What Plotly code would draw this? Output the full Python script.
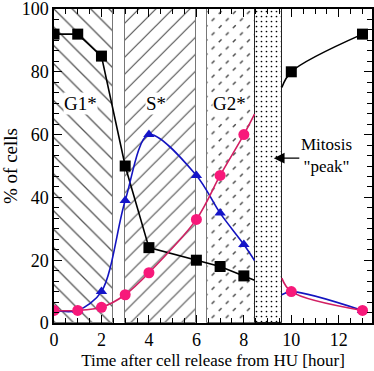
import plotly.graph_objects as go

# ---- data ----
time = [0, 1, 2, 3, 4, 6, 7, 8, 10, 13]
g1_pct = [92, 92, 85, 50, 24, 20, 18, 15, 80, 92]      # black squares
s_pct = [4, 4, 10, 39, 60, 47, 35, 25, 10, 4]          # blue triangles
g2_pct = [4, 4, 5, 9, 16, 33, 47, 60, 10, 4]           # pink circles

# phase bands (start, end) in hours
band_names = ["G1*", "S*", "G2*", "M"]
band_start = [0, 3, 6.45, 8.45]
band_end = [2.5, 5.97, 8.45, 9.6]

# curve values where the lines meet the mitosis band edges
edge_pre_x, edge_post_x = 8.45, 9.6
g1_edge = [13.6, 75]
s_edge = [19.9, 9]
g2_edge = [66.5, 14.3]

x_ticks = [0, 2, 4, 6, 8, 10, 12]
y_ticks = [0, 20, 40, 60, 80, 100]

FONT = "Liberation Serif"
GRAY = "#555555"

fig = go.Figure()

def band(i, shape, size, fg, color="white", solidity=0.12, fgop=1):
    fig.add_trace(go.Bar(
        x=[(band_start[i] + band_end[i]) / 2], y=[100], base=0,
        width=[band_end[i] - band_start[i]],
        marker=dict(color=color, line=dict(width=0),
                    pattern=dict(shape=shape, size=size, solidity=solidity,
                                 fgcolor=fg, fgopacity=fgop)),
        hoverinfo="skip", showlegend=False))

band(0, "\\", 13, GRAY, solidity=0.1)
band(1, "/", 12, GRAY, solidity=0.1)
band(2, "/", 10, "#444", solidity=0.14)
band(2, "\\", 10, "white", color="rgba(0,0,0,0)", solidity=0.6)
band(3, ".", 5, "black", solidity=0.09)

# outlines of the bands
fig.add_trace(go.Bar(
    x=[(a + b) / 2 for a, b in zip(band_start, band_end)], y=[100] * 4, base=0,
    width=[b - a for a, b in zip(band_start, band_end)],
    marker=dict(color="rgba(0,0,0,0)", line=dict(width=1, color=["#777", "#777", "#777", "#222"])),
    hoverinfo="skip", showlegend=False))

n_pre = 8  # points before the mitosis band

def curves(vals, edge, color, shape_pre, shape_post):
    xa = time[:n_pre] + [edge_pre_x]
    ya = vals[:n_pre] + [edge[0]]
    xb = [edge_post_x] + time[n_pre:]
    yb = [edge[1]] + vals[n_pre:]
    fig.add_trace(go.Scatter(x=xa, y=ya, mode="lines",
                             line=dict(color=color, width=1.6, shape=shape_pre, smoothing=0.9),
                             hoverinfo="skip", showlegend=False))
    fig.add_trace(go.Scatter(x=xb, y=yb, mode="lines",
                             line=dict(color=color, width=1.6, shape=shape_post, smoothing=1.0),
                             hoverinfo="skip", showlegend=False))

curves(g1_pct, g1_edge, "black", "linear", "spline")
curves(s_pct, s_edge, "#1414c0", "spline", "spline")
curves(g2_pct, g2_edge, "#d21f63", "spline", "spline")

fig.add_trace(go.Scatter(x=time, y=g1_pct, mode="markers",
                         marker=dict(symbol="square", size=11, color="black"), showlegend=False))
fig.add_trace(go.Scatter(x=time, y=s_pct, mode="markers",
                         marker=dict(symbol="triangle-up", size=10, color="#1414c8"), showlegend=False))
fig.add_trace(go.Scatter(x=time, y=g2_pct, mode="markers",
                         marker=dict(symbol="circle", size=11, color="#f7197a"), showlegend=False))

ann = [
    dict(x=1.1, y=70, text="G1*"),
    dict(x=4.3, y=70, text="S*"),
    dict(x=7.4, y=70, text="G2*"),
]
for a in ann:
    fig.add_annotation(x=a["x"], y=a["y"], text=a["text"], showarrow=False,
                       font=dict(family=FONT, size=19, color="black"),
                       bgcolor="white", borderpad=0)

fig.add_annotation(x=11.5, y=53.3, text="Mitosis<br>\"peak\"", showarrow=False,
                   font=dict(family=FONT, size=17, color="black"))
fig.add_annotation(x=9.26, y=52.5, ax=10.4, ay=52.5, axref="x", ayref="y",
                   text="", showarrow=True, arrowhead=2, arrowsize=1.8,
                   arrowwidth=1.2, arrowcolor="black")

axis_common = dict(showline=True, linecolor="black", linewidth=1.5, mirror="allticks",
                   ticks="inside", tickwidth=1, tickcolor="black", showgrid=False,
                   zeroline=False, automargin=False, ticklabeloverflow="allow",
                   tickfont=dict(family=FONT, size=18, color="black"))

fig.update_layout(
    width=374, height=371,
    margin=dict(l=54, r=2, t=9, b=48),
    plot_bgcolor="white", paper_bgcolor="white",
    barmode="overlay", bargap=0,
    font=dict(family=FONT, color="black"),
    xaxis=dict(range=[0, 13.4], tickvals=x_ticks, ticklen=8,
               minor=dict(dtick=0.5, tick0=0, ticklen=5, ticks="inside", tickcolor="black"),
               title=dict(text="Time after cell release from HU [hour]",
                          font=dict(family=FONT, size=17), standoff=5),
               **axis_common),
    yaxis=dict(range=[0, 100], tickvals=y_ticks, ticklen=8,
               minor=dict(dtick=20 / 6, tick0=0, ticklen=5, ticks="inside", tickcolor="black"),
               title=dict(text="% of cells", font=dict(family=FONT, size=19), standoff=2),
               **axis_common),
)

fig.write_html("out.html", config={"displayModeBar": False},
               post_script="document.body.style.margin='0';document.body.style.padding='0';")
